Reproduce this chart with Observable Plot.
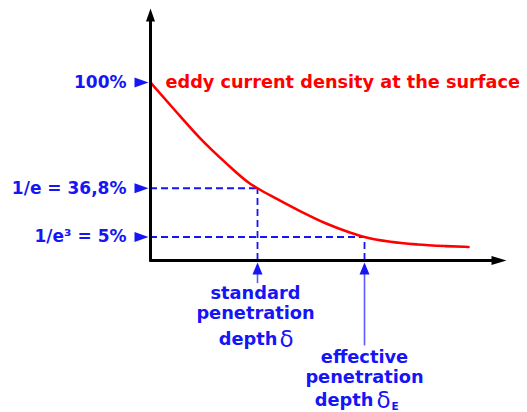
<!DOCTYPE html>
<html>
<head>
<meta charset="utf-8">
<script src="https://cdn.jsdelivr.net/npm/d3@7"></script>
<script src="https://cdn.jsdelivr.net/npm/@observablehq/plot@0.6"></script>
<style>
  html, body { margin: 0; padding: 0; background: #fff; }
  svg { display: block; }
</style>
</head>
<body>
<div id="chart"></div>
<script>
// depth in units of the standard penetration depth δ; density in chart units (100 = surface)
const curveDepth   = [0, 0.234, 0.467, 0.701, 0.935, 1.0, 1.168, 1.402, 1.636, 1.869, 2.0, 2.243, 2.495, 2.757, 2.972];
const curveDensity = [100, 84.0, 68.5, 55.0, 43.0, 40.6, 35.0, 27.6, 20.9, 15.6, 13.2, 10.5, 9.0, 8.1, 7.6];
const curveLabel = "eddy current density at the surface";

const levelValues = [100, 40.6, 13.2];
const levelLabels = ["100%", "1/e = 36,8%", "1/e³ = 5%"];

const depthX = [1, 2];
const depthLine1 = ["standard", "effective"];
const depthLine2 = ["penetration", "penetration"];
const depthLine3 = ["depth", "depth"];
const depthSymbol = "δ";
const depthSub = ["", "E"];

const BLUE = "#1515f5";
const RED = "#ff0000";
const STEM = "#5a5aff";

const X_MAX = 3.327, Y_MAX = 141.6;

const dashed = depthX.map((d, i) => ({depth: d, level: levelValues[i + 1]}));
const curve = curveDepth.map((d, i) => ({depth: d, density: curveDensity[i]}));

const txt = (data, o) => Plot.text(data, {text: d => d, fontWeight: "bold", fontSize: 17.8, fill: BLUE, lineAnchor: "middle", ...o});

const chart = Plot.plot({
  width: 527,
  height: 412,
  marginLeft: 150,
  marginRight: 21,
  marginTop: 8,
  marginBottom: 152,
  x: {domain: [0, X_MAX], axis: null},
  y: {domain: [0, Y_MAX], axis: null},
  style: {fontFamily: "DejaVu Sans", background: "white"},
  marks: [
    // dashed guides
    Plot.ruleY(dashed, {y: "level", x1: 0, x2: "depth", stroke: BLUE, strokeWidth: 1.8, strokeDasharray: "7,4"}),
    Plot.ruleX(dashed, {x: "depth", y1: 0, y2: "level", stroke: BLUE, strokeWidth: 1.8, strokeDasharray: "7,4"}),
    // curve
    Plot.line(curve, {x: "depth", y: "density", stroke: RED, strokeWidth: 2.6, curve: "monotone-x"}),
    // axes
    Plot.ruleX([0], {y1: -1, y2: Y_MAX - 4, stroke: "black", strokeWidth: 3}),
    Plot.ruleY([0], {x1: 0, x2: X_MAX - 0.05, stroke: "black", strokeWidth: 3}),
    Plot.vector([0], {x: 0, y: Y_MAX, anchor: "end", shape: "spike", rotate: 0, length: 13, r: 4.5, fill: "black", stroke: "none"}),
    Plot.vector([0], {x: X_MAX, y: 0, anchor: "end", shape: "spike", rotate: 90, length: 15, r: 4.5, fill: "black", stroke: "none"}),
    // level markers and labels
    Plot.vector(levelValues, {x: 0, y: d => d, dx: -2, anchor: "end", shape: "spike", rotate: 90, length: 14, r: 5, fill: BLUE, stroke: "none"}),
    txt(levelLabels, {x: 0, y: levelValues, dx: -24, textAnchor: "end", fontSize: 17}),
    Plot.text([curveLabel], {x: 0, y: curveDensity[0], text: d => d, dx: 15, dy: 0, textAnchor: "start", lineAnchor: "middle", fontWeight: "bold", fontSize: 17.7, fill: RED}),
    // depth markers below axis
    Plot.ruleX([depthX[0]], {y1: -3, y2: -13, stroke: STEM, strokeWidth: 1.6}),
    Plot.ruleX([depthX[1]], {y1: -3, y2: -48, stroke: STEM, strokeWidth: 1.6}),
    Plot.vector(depthX, {x: d => d, y: 0, dy: 2, anchor: "end", shape: "spike", rotate: 0, length: 12, r: 5, fill: BLUE, stroke: "none"}),
    // standard penetration depth label
    txt([depthLine1[0]], {x: depthX[0], y: 0, dx: -2, dy: 33}),
    txt([depthLine2[0]], {x: depthX[0], y: 0, dx: -2, dy: 52.5}),
    txt([depthLine3[0]], {x: depthX[0], y: 0, dx: 20, dy: 79, textAnchor: "end"}),
    txt([depthSymbol], {x: depthX[0], y: 0, dx: 22, dy: 79, textAnchor: "start", fontWeight: "normal", fontSize: 23}),
    // effective penetration depth label
    txt([depthLine1[1]], {x: depthX[1], y: 0, dx: 0, dy: 96.5}),
    txt([depthLine2[1]], {x: depthX[1], y: 0, dx: 0, dy: 116.5}),
    txt([depthLine3[1]], {x: depthX[1], y: 0, dx: 9, dy: 140, textAnchor: "end"}),
    txt([depthSymbol], {x: depthX[1], y: 0, dx: 12, dy: 140, textAnchor: "start", fontWeight: "normal", fontSize: 23}),
    txt([depthSub[1]], {x: depthX[1], y: 0, dx: 27, dy: 146.5, textAnchor: "start", fontSize: 10.5})
  ]
});

document.getElementById("chart").append(chart);
</script>
</body>
</html>
